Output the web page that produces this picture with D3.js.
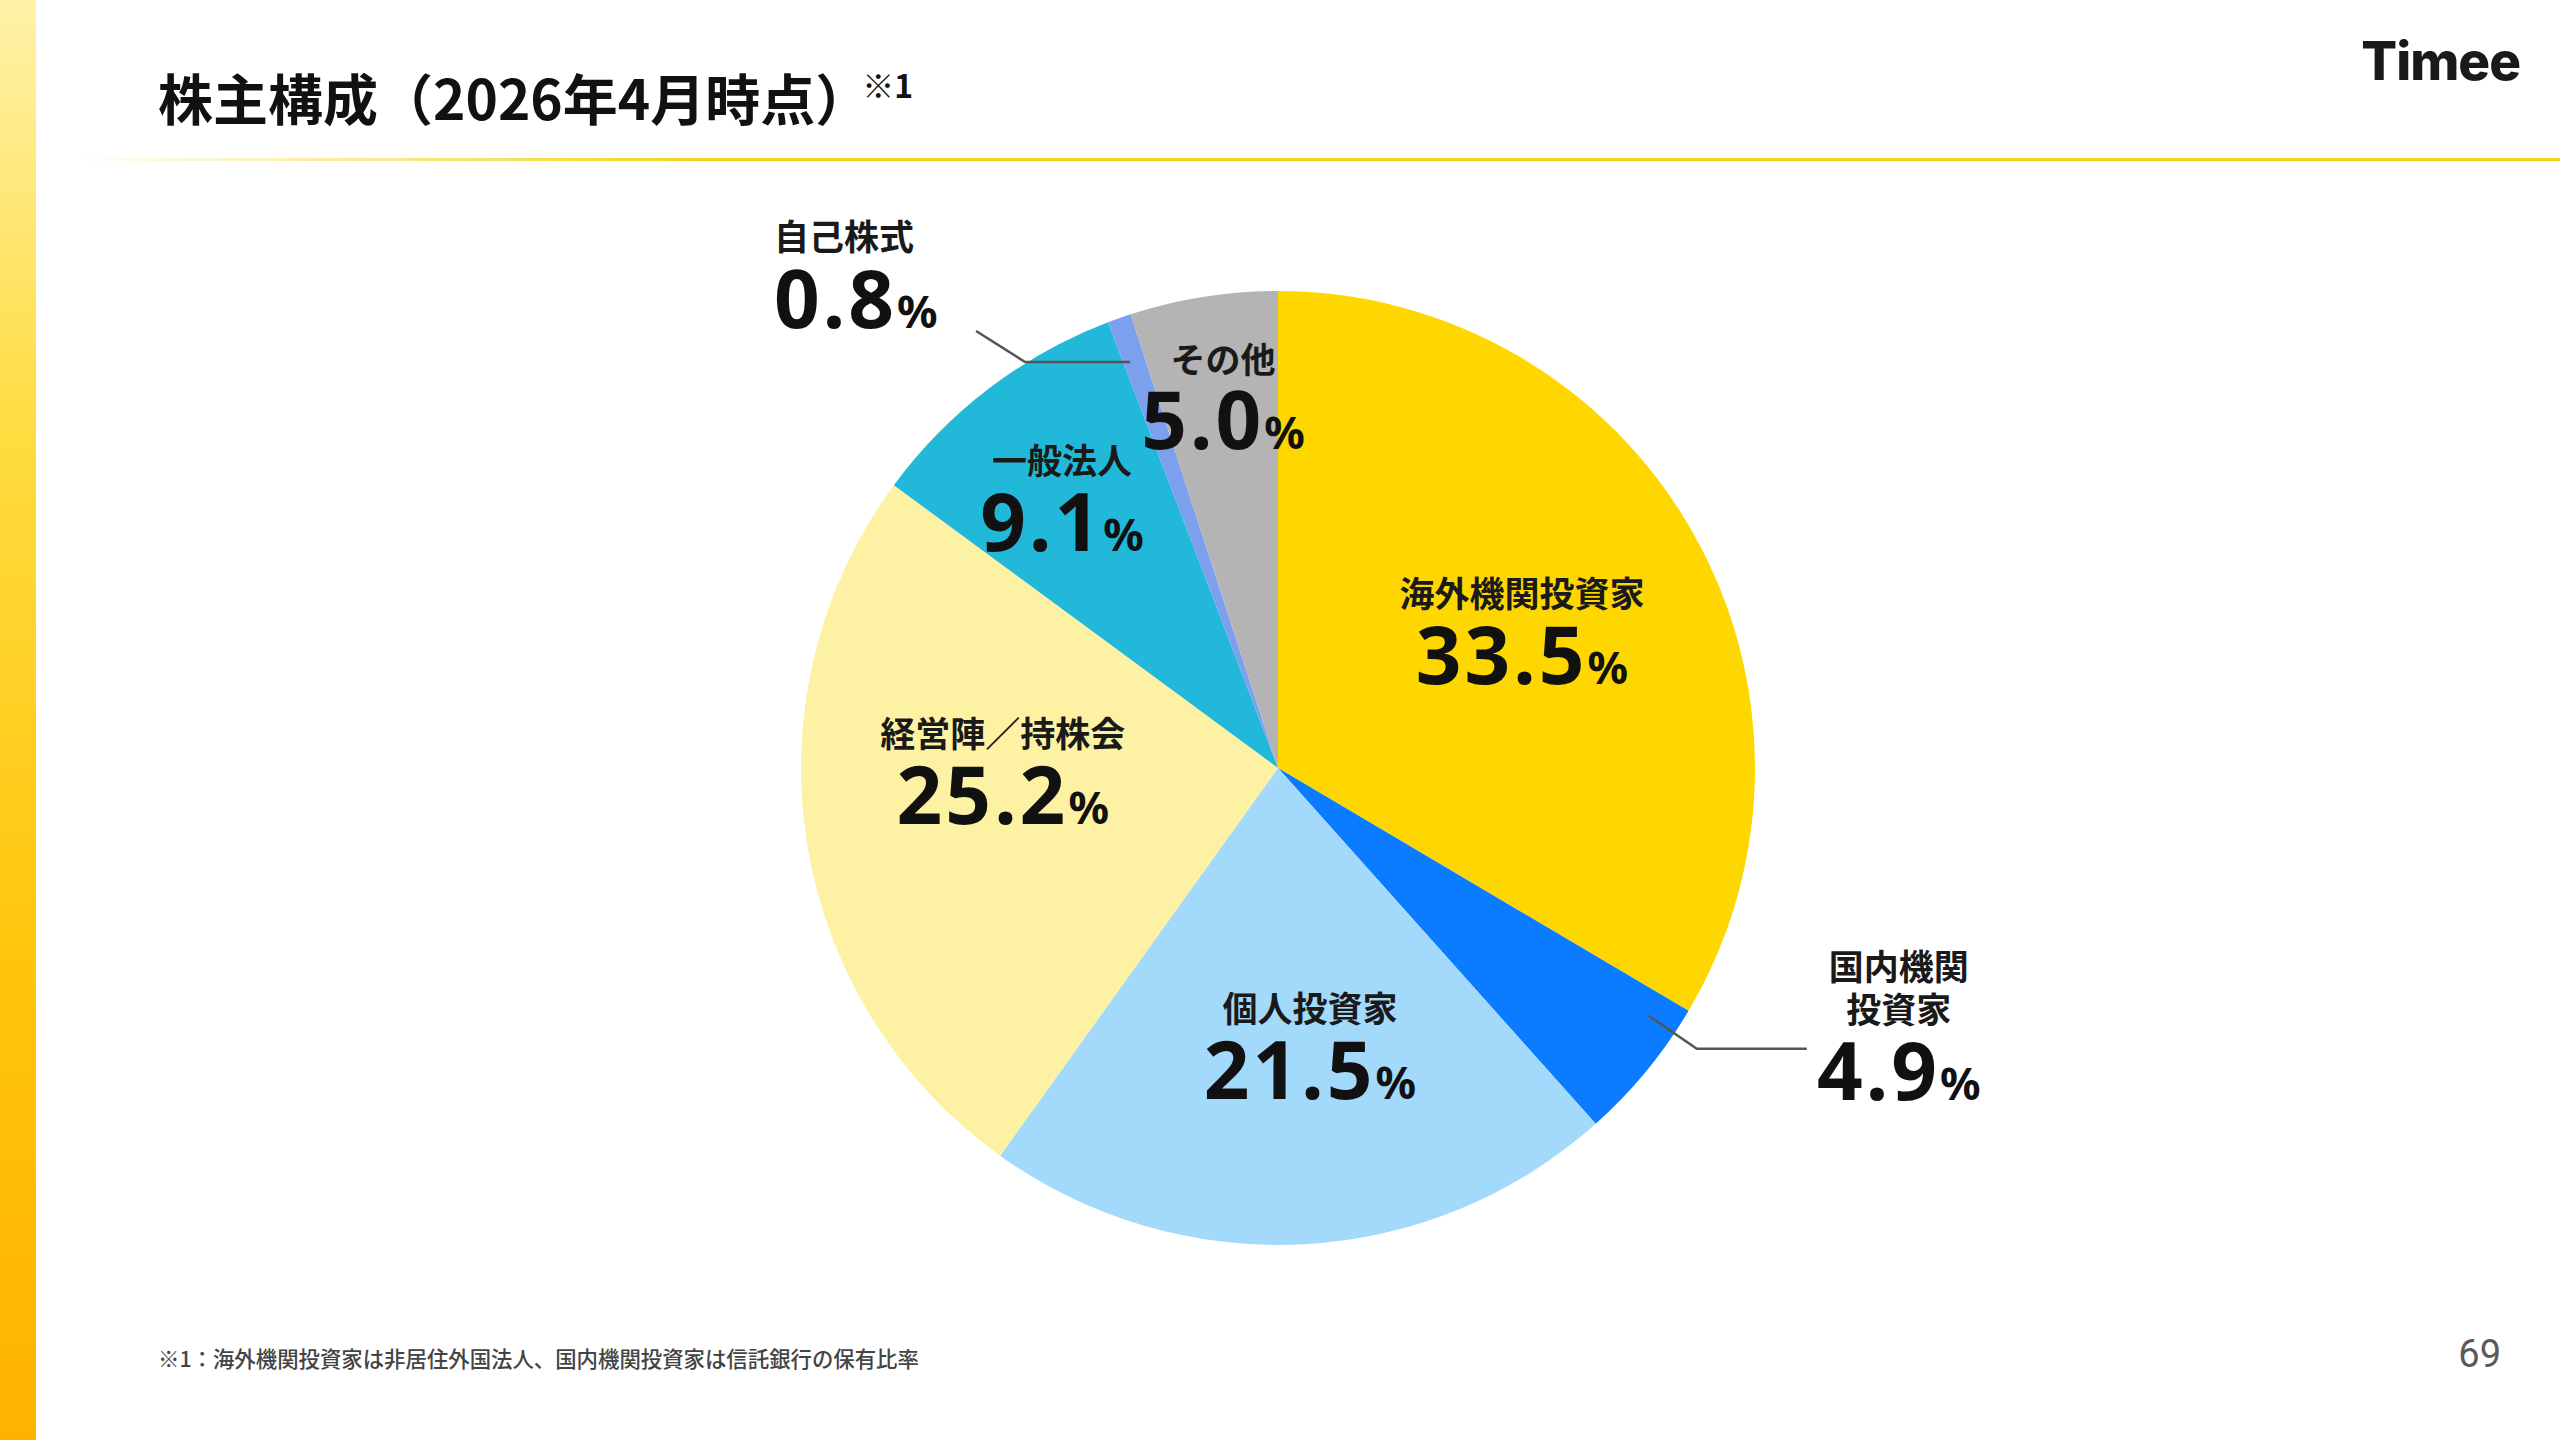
<!DOCTYPE html>
<html lang="ja">
<head>
<meta charset="utf-8">
<script src="https://cdn.jsdelivr.net/npm/d3@7"></script>
<style>
  html, body { margin: 0; padding: 0; background: #fff; }
  svg { display: block; }
</style>
</head>
<body>
<svg id="chart"></svg>
<script>
// 株主構成（12時の位置から時計回り）
const categories = ["海外機関投資家", "国内機関投資家", "個人投資家", "経営陣／持株会", "一般法人", "自己株式", "その他"];
const shares = [33.5, 4.9, 21.5, 25.2, 9.1, 0.8, 5.0];
const sliceColors = ["#ffd700", "#0b7bff", "#a3d9fb", "#fdf2a3", "#22b8d9", "#7ca0ee", "#b4b4b4"];
// 表示用ラベル（改行あり）
const labelLines = [["海外機関投資家"], ["国内機関", "投資家"], ["個人投資家"], ["経営陣／持株会"], ["一般法人"], ["自己株式"], ["その他"]];

const titleText = "株主構成（2026年4月時点）";
const noteText = "※1：海外機関投資家は非居住外国法人、国内機関投資家は信託銀行の保有比率";
const pageNo = "69";

// レイアウト
const width = 2560, height = 1440;
const cx = 1278, cy = 768, radius = 477;
const jpFont = "'Noto Sans CJK JP', 'Noto Sans', sans-serif";
const numFont = "'Noto Sans', 'DejaVu Sans', sans-serif";
const nameSize = 35, valueSize = 80, pctSize = 45;

// スライス内ラベル: [角度比 t, 半径比 k]
const inside = { 0: [0.494, 0.593], 2: [0.453, 0.574], 3: [0.606, 0.577], 4: [0.476, 0.735], 6: [0.54, 0.80] };
// 引き出し線つきラベル
const outside = {
  5: { t: 0.30, k: 0.906, elbow: [-105, 0], end: [-49, -31], anchor: "start", dx: -202, rows: [-94], value: -32 },
  1: { t: 0.179, k: 0.935, elbow: [48, 33], end: [110, 0], anchor: "middle", dx: 92, rows: [-82, -39], value: 22 }
};

const svg = d3.select("#chart")
  .attr("width", width)
  .attr("height", height)
  .attr("viewBox", `0 0 ${width} ${height}`);

const defs = svg.append("defs");

// 左の帯
const barGrad = defs.append("linearGradient")
  .attr("id", "barGrad").attr("x1", 0).attr("y1", 0).attr("x2", 0).attr("y2", 1);
barGrad.append("stop").attr("offset", "0%").attr("stop-color", "#fff2a8");
barGrad.append("stop").attr("offset", "30%").attr("stop-color", "#ffdc40");
barGrad.append("stop").attr("offset", "65%").attr("stop-color", "#ffc60e");
barGrad.append("stop").attr("offset", "100%").attr("stop-color", "#ffb300");

svg.append("rect")
  .attr("x", 0).attr("y", 0)
  .attr("width", 36).attr("height", height)
  .attr("fill", "url(#barGrad)");

// 見出し下のライン
const lineGrad = defs.append("linearGradient")
  .attr("id", "lineGrad").attr("gradientUnits", "userSpaceOnUse")
  .attr("x1", 70).attr("y1", 0).attr("x2", 700).attr("y2", 0);
lineGrad.append("stop").attr("offset", "0%").attr("stop-color", "#f3d21c").attr("stop-opacity", 0);
lineGrad.append("stop").attr("offset", "100%").attr("stop-color", "#f3d21c").attr("stop-opacity", 1);

svg.append("rect")
  .attr("x", 70).attr("y", 158)
  .attr("width", width - 70).attr("height", 3)
  .attr("fill", "url(#lineGrad)");

// タイトル
const title = svg.append("text")
  .attr("x", 158).attr("y", 120)
  .attr("font-family", jpFont)
  .attr("font-weight", 700)
  .attr("fill", "#111");
title.append("tspan").attr("font-size", 55).text(titleText);
title.append("tspan").attr("font-size", 32).attr("dx", -8).attr("dy", -22).text("※1");

// ロゴ
svg.append("text")
  .attr("x", 2520).attr("y", 80)
  .attr("text-anchor", "end")
  .attr("font-family", "Inter, 'Open Sans', sans-serif")
  .attr("font-weight", 800)
  .attr("font-size", 53)
  .attr("letter-spacing", -1)
  .attr("fill", "#1a1a1a")
  .text("Timee");

// 円グラフ
const pie = d3.pie().sort(null).value(d => d);
const arcs = pie(shares);
const arc = d3.arc().innerRadius(0).outerRadius(radius);

const g = svg.append("g").attr("transform", `translate(${cx},${cy})`);

g.selectAll("path.slice")
  .data(arcs)
  .enter()
  .append("path")
  .attr("class", "slice")
  .attr("d", arc)
  .attr("fill", (d, i) => sliceColors[i]);

const polar = (a, r) => [r * Math.sin(a), -r * Math.cos(a)];
const angleAt = (d, t) => d.startAngle + (d.endAngle - d.startAngle) * t;

function drawValue(x, y, v, anchor) {
  const t = g.append("text")
    .attr("x", x).attr("y", y + valueSize * 0.36)
    .attr("text-anchor", anchor)
    .attr("font-family", numFont)
    .attr("font-weight", 700)
    .attr("fill", "#111");
  t.append("tspan").attr("font-size", valueSize).attr("letter-spacing", 3).text(d3.format(".1f")(v));
  t.append("tspan").attr("font-size", pctSize).text("%");
}

function drawName(x, y, s, anchor) {
  g.append("text")
    .attr("x", x).attr("y", y + nameSize * 0.38)
    .attr("text-anchor", anchor)
    .attr("font-family", jpFont)
    .attr("font-weight", 600)
    .attr("font-size", nameSize)
    .attr("fill", "#1a1a1a")
    .text(s);
}

arcs.forEach((d, i) => {
  if (inside[i]) {
    const [t, k] = inside[i];
    const [x, y] = polar(angleAt(d, t), radius * k);
    drawName(x, y - 31, labelLines[i][0], "middle");
    drawValue(x, y + 30, shares[i], "middle");
  } else if (outside[i]) {
    const o = outside[i];
    const p0 = polar(angleAt(d, o.t), radius * o.k);
    const p1 = [p0[0] + o.elbow[0], p0[1] + o.elbow[1]];
    const p2 = [p1[0] + o.end[0], p1[1] + o.end[1]];
    g.append("path")
      .attr("d", d3.line()([p0, p1, p2]))
      .attr("fill", "none")
      .attr("stroke", "#555")
      .attr("stroke-width", 2.5);
    const lx = p2[0] + o.dx;
    labelLines[i].forEach((s, j) => drawName(lx, p2[1] + o.rows[j], s, o.anchor));
    drawValue(lx, p2[1] + o.value, shares[i], o.anchor);
  }
});

// 注記とページ番号
svg.append("text")
  .attr("x", 158).attr("y", 1367)
  .attr("font-family", jpFont)
  .attr("font-weight", 500)
  .attr("font-size", 21.4)
  .attr("fill", "#444")
  .text(noteText);

svg.append("text")
  .attr("x", 2501).attr("y", 1367)
  .attr("text-anchor", "end")
  .attr("font-family", "Roboto, 'Noto Sans', sans-serif")
  .attr("font-size", 38)
  .attr("fill", "#5a5a5a")
  .text(pageNo);
</script>
</body>
</html>
